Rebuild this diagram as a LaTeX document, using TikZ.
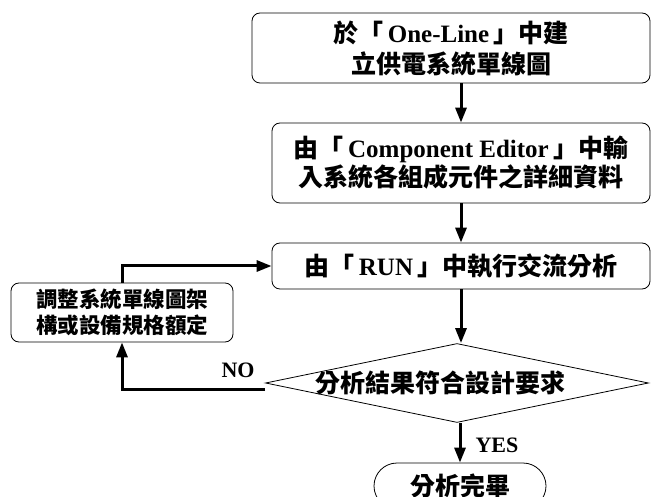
\documentclass[tikz,border=0pt]{standalone}
\usepackage{fontspec}
\setmainfont{Liberation Serif}
\newfontfamily\cjkfont{Noto Sans CJK TC}
\newcommand{\Cj}[1]{{\cjkfont #1}}
\usetikzlibrary{shapes.geometric,shapes.misc,arrows.meta}
\tikzset{
  procbox/.style={draw, line width=0.8pt, rounded corners=8pt, inner sep=0pt,
    align=center, font=\fontsize{25}{32}\selectfont\bfseries},
  sidebox/.style={draw, line width=0.8pt, rounded corners=8pt, inner sep=0pt,
    align=center, font=\fontsize{21.5}{26}\selectfont\bfseries},
  decision/.style={draw, line width=0.8pt, shape=diamond, aspect=4.85, inner sep=0pt},
  endbox/.style={draw, line width=0.8pt, shape=rounded rectangle, inner sep=0pt,
    font=\fontsize{25}{30}\selectfont\bfseries},
  labeltext/.style={font=\fontsize{25}{30}\selectfont\bfseries, inner sep=0pt},
  flowlabel/.style={font=\fontsize{22}{26}\selectfont\bfseries, inner sep=0pt},
  arr/.style={line width=3pt, -{Triangle[length=15pt,width=11pt]}},
}
\begin{document}
\begin{tikzpicture}[x=1pt,y=-1pt]
\useasboundingbox (0,0) rectangle (651,497);
\node[procbox, minimum width=398pt, minimum height=70pt] (b1) at (451,48)
  {\Cj{於「}\,One-Line\,\Cj{」中建}\\[-1pt]\Cj{立供電系統單線圖}};
\node[procbox, minimum width=378pt, minimum height=80pt] (b2) at (461,163)
  {\Cj{由「}\,Component Editor\,\Cj{」中輸}\\[-3pt]\Cj{入系統各組成元件之詳細資料}};
\node[procbox, minimum width=378pt, minimum height=46pt] (b3) at (461,266)
  {\Cj{由「}\,RUN\,\Cj{」中執行交流分析}};
\node[sidebox, minimum width=222pt, minimum height=59pt] (lb) at (122,312.5)
  {\Cj{調整系統單線圖架}\\\Cj{構或設備規格額定}};
\node[decision, minimum width=383pt, minimum height=79pt] (dia) at (457,383) {};
\node[labeltext] (diatext) at (440,383) {\Cj{分析結果符合設計要求}};
\node[endbox, minimum width=172pt, minimum height=46pt] (term) at (460,486)
  {\raisebox{3pt}{\Cj{分析完畢}}};
\node[flowlabel] (nolab) at (238,370) {NO};
\node[flowlabel] (yeslab) at (497,445) {YES};
\draw[arr] (b1.south -| b2.north) -- (b2.north);
\draw[arr] (b2.south) -- (b3.north);
\draw[arr] (b3.south) -- (b3.south |- dia.north);
\draw[arr] (dia.south -| term.north) -- (term.north);
\draw[arr] (lb.north) |- (b3.west);
\draw[arr] ([yshift=-6pt]dia.west) -| (lb.south);
\end{tikzpicture}
\end{document}
